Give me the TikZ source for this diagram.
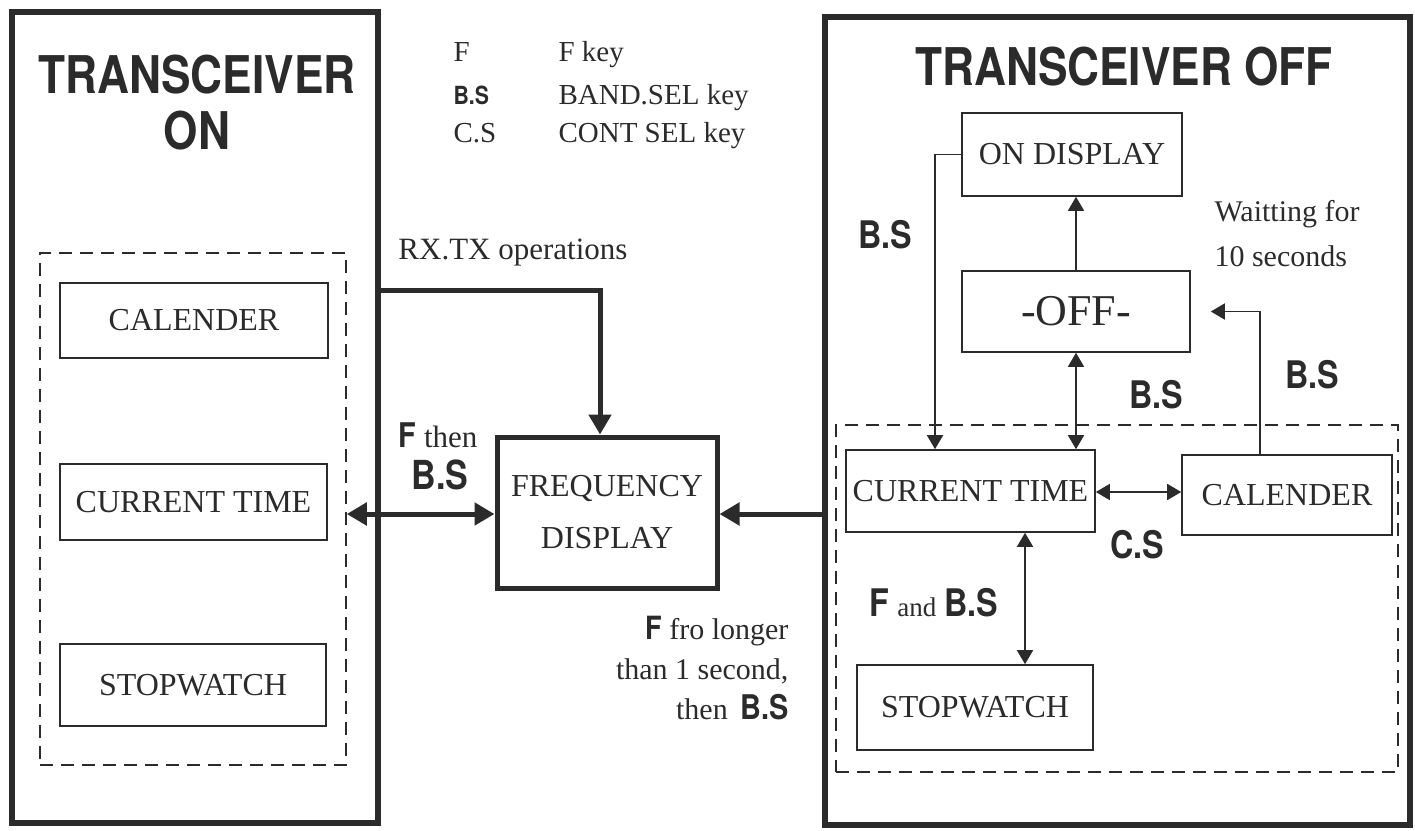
\documentclass[tikz,border=0pt]{standalone}
\usepackage{fontspec}
\setmainfont{Liberation Serif}
\newfontfamily\hb[FakeStretch=0.85]{TeX Gyre Heros}
\usetikzlibrary{arrows.meta,calc}
\definecolor{ink}{HTML}{2B2B2B}
\begin{document}
\begin{tikzpicture}[x=1pt,y=-1pt,
  every node/.style={text=ink},
  outerbox/.style={draw=ink,line width=6pt,inner sep=0pt},
  freqbox/.style={draw=ink,line width=5pt,inner sep=0pt,align=center,font=\fontsize{32}{52}\selectfont},
  statebox/.style={draw=ink,line width=1.6pt,inner sep=0pt,font=\fontsize{32}{36}\selectfont},
  dashbox/.style={draw=ink,line width=1.5pt,dash pattern=on 13pt off 8pt,inner sep=0pt},
  fat/.style={draw=ink,line width=5pt,-{Triangle[length=20pt,width=22pt]}},
  fatboth/.style={draw=ink,line width=5pt,{Triangle[length=20pt,width=22pt]}-{Triangle[length=20pt,width=22pt]}},
  slim/.style={draw=ink,line width=1.6pt,-{Triangle[length=14pt,width=16pt]}},
  slimboth/.style={draw=ink,line width=1.6pt,{Triangle[length=14pt,width=16pt]}-{Triangle[length=14pt,width=16pt]}},
  keylab/.style={font=\hb\bfseries\fontsize{38}{42}\selectfont},
  txt/.style={font=\fontsize{31}{38}\selectfont},
  legend/.style={font=\fontsize{29}{32}\selectfont,anchor=base west},
  title/.style={font=\hb\bfseries\fontsize{52}{56}\selectfont,align=center}]
\useasboundingbox (0,0) rectangle (1415,830);

% outer boxes
\node[outerbox,minimum width=366pt,minimum height=811pt] (lon) at (195,417.5) {};
\node[outerbox,minimum width=585pt,minimum height=808pt] (roff) at (1117.5,421) {};

% titles
\node[title] (tlon) at (197,103) {TRANSCEIVER\\ON};
\node[title] (troff) at (1124,67) {TRANSCEIVER OFF};

% legend
\node[legend] (l1a) at (450,61) {F};
\node[legend] (l1b) at (555,61) {F key};
\node[legend,font=\hb\bfseries\fontsize{25}{30}\selectfont] (l2a) at (450,104) {B.S};
\node[legend] (l2b) at (555,104) {BAND.SEL key};
\node[legend] (l3a) at (450,142) {C.S};
\node[legend] (l3b) at (555,142) {CONT SEL key};

% left side
\node[dashbox,minimum width=306pt,minimum height=512pt] (ldash) at (193,509) {};
\node[statebox,minimum width=268pt,minimum height=75pt] (lcal) at (194,320.5) {CALENDER};
\node[statebox,minimum width=267pt,minimum height=76pt] (lcur) at (193.5,502) {CURRENT TIME};
\node[statebox,minimum width=266pt,minimum height=82pt] (lstop) at (193,685) {STOPWATCH};

% frequency display
\node[freqbox,minimum width=220pt,minimum height=151pt] (freq) at (607,512.5) {FREQUENCY\\DISPLAY};

% right side
\node[statebox,minimum width=220pt,minimum height=83pt] (ondisp) at (1072,154.5) {ON DISPLAY};
\node[statebox,minimum width=228pt,minimum height=81pt,font=\fontsize{44}{48}\selectfont] (off) at (1076,311.5) {-OFF-};
\node[dashbox,minimum width=562pt,minimum height=347pt] (rdash) at (1117,598.5) {};
\node[statebox,minimum width=249pt,minimum height=82pt] (rcur) at (970.5,491) {CURRENT TIME};
\node[statebox,minimum width=210pt,minimum height=80pt] (rcal) at (1287,495) {CALENDER};
\node[statebox,minimum width=236pt,minimum height=85pt] (rstop) at (975,707.5) {STOPWATCH};

% helper coordinates
\coordinate (yrx) at (0,290);
\coordinate (xrx) at (600,0);
\coordinate (ymid) at (0,514);
\coordinate (xl) at (935,0);
\coordinate (xc) at (1260,0);
\coordinate (xs) at (1025,0);
\coordinate (yc) at (0,492);

% thick connectors
\draw[fat] (lon.east |- yrx) -| (xrx |- freq.north);
\draw[fatboth] (ldash.east |- ymid) -- (freq.west |- ymid);
\draw[fat] (roff.west |- ymid) -- (freq.east |- ymid);

% thin connectors
\draw[slim] (ondisp.west) -| (xl |- rcur.north);
\draw[slim] (off.north) -- (off.north |- ondisp.south);
\draw[slimboth] (off.south) -- (off.south |- rcur.north);
\draw[slim,shorten >=20pt] (xc |- rcal.north) |- (off.east);
\draw[slimboth] (rcur.east |- yc) -- (rcal.west |- yc);
\draw[slimboth] (xs |- rcur.south) -- (xs |- rstop.north);

% labels
\node[txt] (rxtx) at (513,253) {RX.TX operations};
\node[txt] (fthen) at (438,435) {{\hb\bfseries\fontsize{34}{38}\selectfont F} then};
\node[keylab,font=\hb\bfseries\fontsize{40}{44}\selectfont] (bs1) at (440,475) {B.S};
\node[txt,align=right,anchor=east,font=\fontsize{30}{40}\selectfont] (flong) at (792,668)
  {{\hb\bfseries\fontsize{32}{40}\selectfont F} fro longer\\than 1 second,\\then \,{\hb\bfseries\fontsize{34}{40}\selectfont B.S}};
\node[keylab] (bs2) at (885,235) {B.S};
\node[txt,align=left,anchor=west,font=\fontsize{30}{45}\selectfont] (wait) at (1211,234) {Waitting for\\10 seconds};
\node[keylab] (bs3) at (1156,395) {B.S};
\node[keylab] (bs4) at (1312,375) {B.S};
\node[keylab] (cs) at (1137,545) {C.S};
\node[txt] (fand) at (934,603) {{\hb\bfseries\fontsize{38}{40}\selectfont F} {\fontsize{27}{30}\selectfont and} {\hb\bfseries\fontsize{38}{40}\selectfont B.S}};
\end{tikzpicture}
\end{document}
